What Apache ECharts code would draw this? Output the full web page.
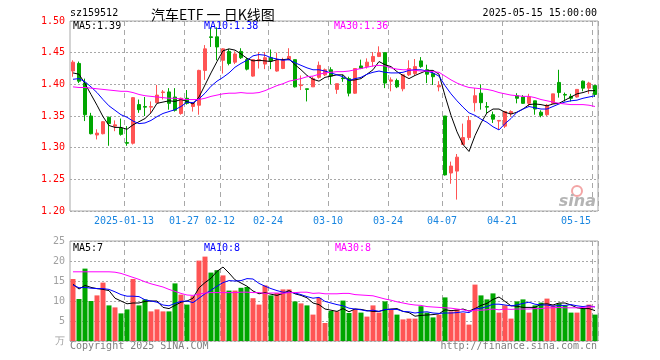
<!DOCTYPE html>
<html><head><meta charset="utf-8">
<script src="https://cdn.jsdelivr.net/npm/echarts@6/dist/echarts.min.js"></script>
<style>html,body{margin:0;padding:0;background:#fff}#c{width:660px;height:360px}</style>
</head><body><div id="c"></div>
<script>
const dates = ['2024-12-30','2024-12-31','2025-01-02','2025-01-03','2025-01-06','2025-01-07','2025-01-08','2025-01-09','2025-01-10','2025-01-13',
'2025-01-14','2025-01-15','2025-01-16','2025-01-17','2025-01-20','2025-01-21','2025-01-22','2025-01-23','2025-01-24','2025-01-27',
'2025-02-05','2025-02-06','2025-02-07','2025-02-10','2025-02-11','2025-02-12','2025-02-13','2025-02-14','2025-02-17','2025-02-18',
'2025-02-19','2025-02-20','2025-02-21','2025-02-24','2025-02-25','2025-02-26','2025-02-27','2025-02-28','2025-03-03','2025-03-04',
'2025-03-05','2025-03-06','2025-03-07','2025-03-10','2025-03-11','2025-03-12','2025-03-13','2025-03-14','2025-03-17','2025-03-18',
'2025-03-19','2025-03-20','2025-03-21','2025-03-24','2025-03-25','2025-03-26','2025-03-27','2025-03-28','2025-03-31','2025-04-01',
'2025-04-02','2025-04-03','2025-04-07','2025-04-08','2025-04-09','2025-04-10','2025-04-11','2025-04-14','2025-04-15','2025-04-16',
'2025-04-17','2025-04-18','2025-04-21','2025-04-22','2025-04-23','2025-04-24','2025-04-25','2025-04-28','2025-04-29','2025-04-30',
'2025-05-06','2025-05-07','2025-05-08','2025-05-09','2025-05-12','2025-05-13','2025-05-14','2025-05-15'];

const opens = [1.421,1.433,1.402,1.350,1.320,1.322,1.348,1.334,1.331,1.308,
1.307,1.368,1.365,1.364,1.371,1.387,1.388,1.380,1.354,1.378,
1.365,1.367,1.422,1.475,1.475,1.438,1.452,1.435,1.452,1.439,
1.413,1.437,1.432,1.442,1.421,1.425,1.439,1.439,1.398,1.393,
1.396,1.411,1.415,1.423,1.392,1.410,1.409,1.386,1.429,1.428,
1.436,1.444,1.450,1.405,1.406,1.393,1.415,1.417,1.437,1.423,
1.417,1.396,1.350,1.260,1.263,1.305,1.316,1.371,1.386,1.365,
1.352,1.342,1.334,1.354,1.382,1.380,1.370,1.374,1.356,1.352,
1.370,1.403,1.384,1.381,1.380,1.405,1.394,1.398];
const closes = [1.435,1.405,1.352,1.322,1.323,1.341,1.338,1.336,1.321,1.307,
1.379,1.360,1.364,1.365,1.383,1.388,1.370,1.359,1.378,1.370,
1.370,1.422,1.456,1.474,1.459,1.456,1.433,1.448,1.442,1.424,
1.439,1.439,1.442,1.437,1.438,1.438,1.444,1.396,1.399,1.392,
1.409,1.430,1.423,1.413,1.401,1.409,1.386,1.425,1.425,1.435,
1.444,1.450,1.402,1.407,1.396,1.415,1.425,1.428,1.428,1.416,
1.412,1.398,1.257,1.271,1.285,1.316,1.343,1.382,1.371,1.364,
1.345,1.343,1.357,1.357,1.378,1.370,1.380,1.361,1.351,1.367,
1.385,1.387,1.383,1.378,1.392,1.394,1.402,1.384];
const lows = [1.412,1.402,1.342,1.321,1.313,1.321,1.303,1.326,1.319,1.303,
1.305,1.355,1.350,1.354,1.370,1.376,1.360,1.357,1.352,1.368,
1.357,1.352,1.407,1.459,1.438,1.417,1.430,1.432,1.440,1.422,
1.412,1.425,1.424,1.424,1.420,1.424,1.438,1.395,1.391,1.373,
1.396,1.409,1.413,1.400,1.385,1.404,1.381,1.385,1.424,1.425,
1.428,1.443,1.394,1.389,1.394,1.389,1.413,1.414,1.426,1.402,
1.399,1.389,1.256,1.243,1.218,1.305,1.312,1.357,1.360,1.354,
1.339,1.329,1.331,1.349,1.370,1.369,1.365,1.352,1.348,1.350,
1.370,1.379,1.373,1.373,1.379,1.389,1.385,1.380];
const highs = [1.438,1.436,1.409,1.355,1.329,1.342,1.349,1.343,1.346,1.334,
1.380,1.376,1.380,1.373,1.399,1.391,1.394,1.394,1.379,1.391,
1.371,1.423,1.462,1.490,1.490,1.457,1.456,1.452,1.457,1.442,
1.440,1.451,1.451,1.455,1.450,1.442,1.457,1.439,1.414,1.393,
1.412,1.436,1.425,1.427,1.401,1.415,1.412,1.425,1.439,1.441,
1.451,1.460,1.450,1.411,1.409,1.415,1.438,1.440,1.443,1.431,
1.420,1.405,1.350,1.278,1.290,1.338,1.350,1.394,1.400,1.372,
1.357,1.343,1.357,1.359,1.386,1.383,1.385,1.374,1.359,1.369,
1.385,1.423,1.387,1.385,1.392,1.406,1.404,1.398];

const ma5 = [1.418,1.416,1.401,1.384,1.367,1.349,1.335,1.332,1.332,1.329,
1.336,1.341,1.346,1.355,1.370,1.372,1.374,1.373,1.376,1.373,
1.369,1.380,1.399,1.418,1.436,1.453,1.456,1.454,1.448,1.441,
1.437,1.438,1.437,1.436,1.439,1.439,1.440,1.431,1.423,1.414,
1.408,1.405,1.411,1.413,1.415,1.415,1.406,1.407,1.409,1.416,
1.423,1.436,1.431,1.428,1.420,1.414,1.409,1.414,1.418,1.422,
1.422,1.416,1.382,1.351,1.325,1.305,1.294,1.319,1.339,1.355,
1.361,1.361,1.356,1.353,1.356,1.361,1.368,1.369,1.368,1.366,
1.369,1.370,1.375,1.380,1.385,1.387,1.390,1.390];
const ma10 = [1.408,1.409,1.404,1.396,1.387,1.376,1.366,1.359,1.352,1.348,
1.342,1.338,1.339,1.343,1.349,1.354,1.357,1.360,1.365,1.372,
1.371,1.377,1.386,1.397,1.405,1.411,1.418,1.427,1.433,1.438,
1.445,1.447,1.446,1.442,1.440,1.438,1.439,1.434,1.430,1.426,
1.423,1.423,1.421,1.418,1.415,1.412,1.406,1.409,1.411,1.416,
1.419,1.421,1.419,1.418,1.418,1.419,1.422,1.423,1.423,1.421,
1.418,1.413,1.398,1.385,1.374,1.364,1.355,1.351,1.345,1.340,
1.333,1.328,1.338,1.346,1.356,1.361,1.365,1.363,1.361,1.361,
1.365,1.369,1.372,1.374,1.375,1.378,1.380,1.382];
const ma30 = [1.396,1.395,1.395,1.394,1.393,1.392,1.391,1.390,1.389,1.389,
1.387,1.384,1.382,1.381,1.380,1.379,1.378,1.378,1.377,1.376,
1.376,1.376,1.378,1.381,1.383,1.385,1.386,1.386,1.387,1.386,
1.386,1.387,1.390,1.394,1.398,1.401,1.405,1.407,1.409,1.412,
1.413,1.416,1.418,1.419,1.420,1.420,1.421,1.423,1.425,1.427,
1.429,1.430,1.429,1.426,1.424,1.423,1.423,1.422,1.421,1.421,
1.420,1.419,1.413,1.407,1.402,1.398,1.395,1.394,1.393,1.392,
1.390,1.387,1.385,1.383,1.382,1.381,1.381,1.379,1.376,1.374,
1.372,1.370,1.369,1.368,1.368,1.368,1.367,1.365];

const volumes = [15.5,10.5,18.1,10.0,11.4,14.6,8.9,8.4,6.9,7.9,
15.5,8.9,10.4,7.4,7.9,7.4,7.4,14.4,11.6,9.1,
11.2,20.1,21.1,17.1,17.7,16.4,12.6,12.6,13.3,13.5,
10.7,9.1,13.9,11.4,12.0,12.9,12.9,9.9,9.4,8.9,
6.6,10.8,4.5,7.5,7.4,10.1,7.0,7.9,7.1,6.1,
8.9,7.1,9.9,7.9,6.6,5.4,5.6,5.6,8.7,7.1,
5.9,6.6,10.9,7.4,7.9,7.0,4.1,14.1,11.4,10.4,
11.9,7.1,8.9,5.6,9.9,10.4,7.1,8.9,9.6,10.6,
8.9,9.4,8.9,7.1,7.1,8.1,9.1,6.6];
const volMa5 = [14.2,13.0,13.9,13.4,13.1,12.9,12.6,10.7,10.0,9.3,
9.5,9.5,9.9,10.0,10.0,8.4,8.1,8.9,9.7,10.0,
10.7,13.3,14.6,15.7,17.4,18.5,17.0,15.3,14.5,13.7,
12.5,11.8,12.1,11.7,11.4,11.9,12.6,11.8,11.4,10.8,
9.5,9.1,8.0,7.7,7.4,8.1,7.3,8.0,7.9,7.6,
7.4,7.4,7.8,8.0,8.1,7.4,7.1,6.2,6.4,6.5,
6.6,6.8,7.8,7.6,7.7,8.0,7.5,8.1,8.9,9.4,
10.4,11.0,9.9,8.8,8.7,8.4,8.4,8.4,9.2,9.3,
9.0,9.5,9.5,9.0,8.3,8.1,8.1,7.6];
const volMa10 = [14.0,13.3,13.4,13.2,13.1,13.1,12.9,12.3,11.6,11.2,
11.2,11.1,10.3,10.0,9.7,9.0,8.8,9.4,9.9,10.0,
9.6,10.7,11.8,12.7,13.7,14.6,15.1,15.0,15.1,15.6,
15.5,14.4,13.7,13.1,12.6,12.2,12.2,12.0,11.6,11.1,
10.7,10.9,9.9,9.5,9.1,8.8,8.2,8.0,7.8,7.5,
7.7,7.4,7.9,7.9,7.9,7.4,7.3,7.0,7.2,7.3,
7.0,6.9,7.0,7.0,7.1,7.3,7.1,8.0,8.2,8.6,
9.2,9.2,9.0,8.8,9.0,9.4,9.7,9.2,9.0,9.0,
8.7,8.9,8.9,9.1,8.8,8.6,8.8,8.5];
const volMa30 = [17.3,17.3,17.3,17.3,17.3,17.3,17.3,17.2,16.9,16.4,
15.9,15.4,14.8,14.3,13.9,13.5,12.9,12.4,11.9,11.5,
11.4,11.7,12.0,12.1,12.1,12.1,12.1,12.1,12.2,12.2,
12.1,12.1,11.9,12.0,12.0,11.9,12.1,12.1,12.2,12.2,
11.9,12.0,11.8,11.8,11.8,11.9,11.9,11.6,11.5,11.4,
11.3,10.9,10.5,10.2,9.8,9.5,9.2,9.0,8.9,8.6,
8.5,8.4,8.3,8.2,8.0,7.8,7.5,7.7,7.7,7.8,
8.0,7.8,8.0,7.9,8.0,8.0,8.0,8.1,8.1,8.3,
8.3,8.4,8.3,8.3,8.3,8.4,8.5,8.6];

const labelDates = ['2025-01-13','2025-01-27','2025-02-12','2025-02-24','2025-03-10','2025-03-24','2025-04-07','2025-04-21','2025-05-15'];
const priceMaLabels = ['MA5:1.39','MA10:1.38','MA30:1.36'];
const volMaLabels = ['MA5:7','MA10:8','MA30:8'];

const RED = '#ff5454', GREEN = '#00a600';
const MONO = '"DejaVu Sans Mono", "Liberation Mono", monospace';
const GRIDC = '#a8a8a8';

const isLabel = (i, v) => labelDates.indexOf(v) >= 0;
const kData = dates.map((d, i) => [opens[i], closes[i], lows[i], highs[i]]);
const volData = volumes.map((v, i) => ({ value: v, itemStyle: { color: closes[i] >= opens[i] ? RED : GREEN } }));

const chart = echarts.init(document.getElementById('c'), null, { renderer: 'canvas' });
const lineSeries = (name, data, color, xi, yi) => ({
  name, type: 'line', data, xAxisIndex: xi, yAxisIndex: yi, symbol: 'none', smooth: false,
  lineStyle: { width: 1, color }, silent: true, z: 5
});

chart.setOption({
  animation: false,
  backgroundColor: '#fff',
  grid: [
    { left: 70, top: 21, width: 528, height: 190, show: true, borderColor: GRIDC, borderWidth: 1 },
    { left: 70, top: 241, width: 528, height: 100, show: true, borderColor: GRIDC, borderWidth: 1 }
  ],
  xAxis: [
    { type: 'category', gridIndex: 0, data: dates, boundaryGap: true,
      axisLine: { show: false }, axisTick: { show: false },
      axisLabel: { interval: isLabel, margin: 5,
        formatter: v => v === '2025-01-13' ? '{a|' + v + '}' : (v === '2025-05-15' ? '{b|' + v.slice(5) + '}' : '{a|' + v.slice(5) + '}'),
        rich: {
          a: { color: '#1a86e0', fontSize: 10, fontFamily: MONO, padding: [0, 6, 0, 0] },
          b: { color: '#1a86e0', fontSize: 10, fontFamily: MONO, padding: [0, 38, 0, 0] }
        } },
      splitLine: { show: true, interval: isLabel, lineStyle: { color: GRIDC, type: [5, 4], width: 1 } } },
    { type: 'category', gridIndex: 1, data: dates, boundaryGap: true,
      axisLine: { show: false }, axisTick: { show: false }, axisLabel: { show: false },
      splitLine: { show: true, interval: isLabel, lineStyle: { color: GRIDC, type: [5, 4], width: 1 } } }
  ],
  yAxis: [
    { type: 'value', gridIndex: 0, min: 1.2, max: 1.5, interval: 0.05, scale: true,
      axisLine: { show: false }, axisTick: { show: false },
      axisLabel: { color: '#ff0000', fontSize: 10, fontFamily: MONO, margin: 5, formatter: v => v.toFixed(2) },
      splitLine: { show: true, lineStyle: { color: GRIDC, type: [2, 2], width: 1 } } },
    { type: 'value', gridIndex: 1, min: 0, max: 25, interval: 5,
      axisLine: { show: false }, axisTick: { show: false },
      axisLabel: { color: '#a0a0a0', fontSize: 10, fontFamily: MONO, margin: 5, formatter: v => v === 0 ? '万' : String(v) },
      splitLine: { show: true, lineStyle: { color: GRIDC, type: [2, 2], width: 1 } } }
  ],
  series: [
    { type: 'candlestick', xAxisIndex: 0, yAxisIndex: 0, data: kData, barWidth: 4,
      itemStyle: { color: RED, color0: GREEN, borderColor: RED, borderColor0: GREEN, borderWidth: 1 }, z: 3 },
    lineSeries('MA5', ma5, '#000000', 0, 0),
    lineSeries('MA10', ma10, '#0000ff', 0, 0),
    lineSeries('MA30', ma30, '#ff00ff', 0, 0),
    { type: 'bar', xAxisIndex: 1, yAxisIndex: 1, data: volData, barWidth: 5, z: 3 },
    lineSeries('VMA5', volMa5, '#000000', 1, 1),
    lineSeries('VMA10', volMa10, '#0000ff', 1, 1),
    lineSeries('VMA30', volMa30, '#ff00ff', 1, 1)
  ],
  graphic: [
    { type: 'text', x: 70, y: 13, style: { text: 'sz159512', font: '10px ' + MONO, fill: '#000', verticalAlign: 'middle' } },
    { type: 'text', x: 151, y: 15, style: { text: '汽车ETF 一 日K线图', font: '14px "Noto Sans CJK SC"', fill: '#000', verticalAlign: 'middle' } },
    { type: 'text', x: 597, y: 13, style: { text: '2025-05-15 15:00:00', font: '10px ' + MONO, fill: '#000', align: 'right', verticalAlign: 'middle' } },
    { type: 'text', x: 73, y: 26, z: 10, style: { text: priceMaLabels[0], font: '10px ' + MONO, fill: '#000', verticalAlign: 'middle' } },
    { type: 'text', x: 204, y: 26, z: 10, style: { text: priceMaLabels[1], font: '10px ' + MONO, fill: '#0000ff', verticalAlign: 'middle' } },
    { type: 'text', x: 334, y: 26, z: 10, style: { text: priceMaLabels[2], font: '10px ' + MONO, fill: '#ff00ff', verticalAlign: 'middle' } },
    { type: 'text', x: 73, y: 248, z: 10, style: { text: volMaLabels[0], font: '10px ' + MONO, fill: '#000', verticalAlign: 'middle' } },
    { type: 'text', x: 204, y: 248, z: 10, style: { text: volMaLabels[1], font: '10px ' + MONO, fill: '#0000ff', verticalAlign: 'middle' } },
    { type: 'text', x: 335, y: 248, z: 10, style: { text: volMaLabels[2], font: '10px ' + MONO, fill: '#ff00ff', verticalAlign: 'middle' } },
    { type: 'text', x: 70, y: 346, style: { text: 'Copyright 2025 SINA.COM', font: '10px ' + MONO, fill: '#808080', verticalAlign: 'middle' } },
    { type: 'text', x: 597, y: 346, style: { text: 'http://finance.sina.com.cn', font: '10px ' + MONO, fill: '#808080', align: 'right', verticalAlign: 'middle' } },
    { type: 'circle', shape: { cx: 577, cy: 191, r: 5 }, style: { fill: 'none', stroke: '#f3a5a5', lineWidth: 2 }, z: 1 },
    { type: 'text', x: 596, y: 202, z: 1, style: { text: 'sina', font: 'italic bold 16px "DejaVu Sans"', fill: '#b4b4b4', align: 'right', verticalAlign: 'middle' } }
  ]
});
</script></body></html>
